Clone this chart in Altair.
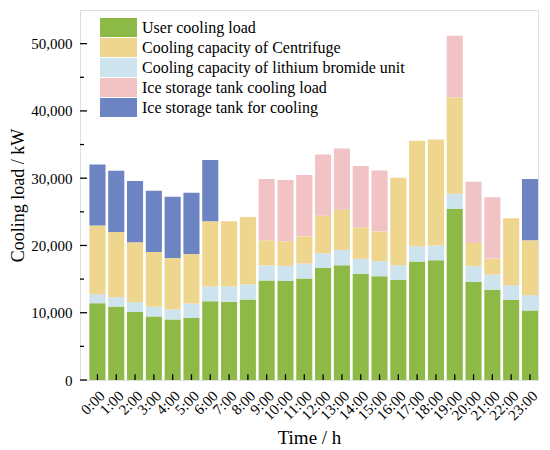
import altair as alt
import pandas as pd

hours = [f"{h}:00" for h in range(24)]
series = [
    "User cooling load",
    "Cooling capacity of Centrifuge",
    "Cooling capacity of lithium bromide unit",
    "Ice storage tank cooling load",
    "Ice storage tank for cooling",
]
colors = ["#8DB946", "#EFD68F", "#CDE3EE", "#F1C3C5", "#6C84C2"]

# segment heights (kW), stacked bottom -> top: user, lithium, centrifuge, ice load, ice cooling
user_load = [11420, 10930, 10140, 9450, 9000, 9250, 11720, 11620, 11970, 14790, 14740, 15080,
             16670, 17060, 15780, 15430, 14880, 17610, 17800, 25420, 14590, 13400, 11920, 10340]
lithium = [1340, 1380, 1430, 1430, 1480, 2120, 2180, 2280, 2270, 2220, 2220, 2230,
           2170, 2270, 2220, 2230, 2180, 2270, 2180, 2280, 2320, 2280, 2180, 2270]
centrifuge = [10190, 9690, 8900, 8160, 7670, 7370, 9690, 9690, 9990, 3760, 3660, 4050,
              5590, 5990, 4700, 4400, 13000, 15680, 15780, 14290, 3470, 2370, 9940, 8160]
ice_load = [0, 0, 0, 0, 0, 0, 0, 0, 0, 9100, 9100, 9100,
            9100, 9100, 9100, 9100, 0, 0, 0, 9200, 9100, 9100, 0, 0]
ice_cooling = [9100, 9100, 9100, 9100, 9100, 9100, 9100, 0, 0, 0, 0, 0,
               0, 0, 0, 0, 0, 0, 0, 0, 0, 0, 0, 9100]

major_ticks = [0, 10000, 20000, 30000, 40000, 50000]
minor_ticks = [5000, 15000, 25000, 35000, 45000]

stack_order = [
    ("User cooling load", user_load, 0),
    ("Cooling capacity of lithium bromide unit", lithium, 1),
    ("Cooling capacity of Centrifuge", centrifuge, 2),
    ("Ice storage tank cooling load", ice_load, 3),
    ("Ice storage tank for cooling", ice_cooling, 4),
]
rows = []
for name, vals, rank in stack_order:
    for h, v in zip(hours, vals):
        rows.append({"hour": h, "series": name, "value": v, "rank": rank})
df = pd.DataFrame(rows)

FONT = "Times New Roman, Liberation Serif, serif"

x_scale = alt.Scale(paddingInner=0.145, paddingOuter=0.25, align=1)
y_scale = alt.Scale(domain=[0, 55000], nice=False)

bars = alt.Chart(df).mark_bar().encode(
    x=alt.X(
        "hour:N",
        sort=hours,
        scale=x_scale,
        axis=alt.Axis(
            title="Time / h",
            labelAngle=-45,
            labelFont=FONT,
            labelFontSize=15,
            labelColor="black",
            labelPadding=8,
            ticks=False,
            domain=False,
            titleFont=FONT,
            titleFontSize=19,
            titleFontWeight="normal",
            titleColor="black",
            titlePadding=6,
        ),
    ),
    y=alt.Y(
        "value:Q",
        stack="zero",
        scale=y_scale,
        axis=alt.Axis(
            title="Cooling load / kW",
            values=major_ticks,
            format=",d",
            labelFont=FONT,
            labelFontSize=15,
            labelColor="black",
            labelPadding=8,
            ticks=False,
            domain=False,
            grid=False,
            titleFont=FONT,
            titleFontSize=18,
            titleFontWeight="normal",
            titleColor="black",
            titlePadding=3,
        ),
    ),
    color=alt.Color(
        "series:N",
        scale=alt.Scale(domain=series, range=colors),
        legend=alt.Legend(
            title=None,
            orient="none",
            legendX=20,
            legendY=8,
            symbolType="M-1,-0.51H1V0.51H-1Z",
            symbolSize=1369,
            symbolStrokeWidth=0,
            symbolOpacity=1,
            clipHeight=19,
            rowPadding=1,
            labelOffset=5,
            labelFont=FONT,
            labelFontSize=16,
            labelColor="black",
            labelLimit=0,
            padding=0,
        ),
    ),
    order=alt.Order("rank:Q", sort="ascending"),
)

x_ticks = alt.Chart(pd.DataFrame({"hour": hours})).mark_rule(color="black", strokeWidth=1.3).encode(
    x=alt.X("hour:N", sort=hours, scale=x_scale),
    y=alt.datum(0),
    y2=alt.datum(850),
)

y_major = alt.Chart(pd.DataFrame({"value": major_ticks})).mark_rule(color="black", strokeWidth=1.3).encode(
    y=alt.Y("value:Q", scale=y_scale),
    x=alt.value(0),
    x2=alt.value(7),
)

y_minor = alt.Chart(pd.DataFrame({"value": minor_ticks})).mark_rule(color="black", strokeWidth=1.3).encode(
    y=alt.Y("value:Q", scale=y_scale),
    x=alt.value(0),
    x2=alt.value(4),
)

chart = alt.layer(bars, x_ticks, y_major, y_minor).properties(
    width=458,
    height=370,
    autosize=alt.AutoSizeParams(type="none"),
    padding={"left": 72, "top": 2, "right": 4, "bottom": 70},
).configure_view(
    stroke="black",
    strokeWidth=1.5,
).configure(background="white")

chart.save("out.html", embed_options={"renderer": "svg", "actions": False})
